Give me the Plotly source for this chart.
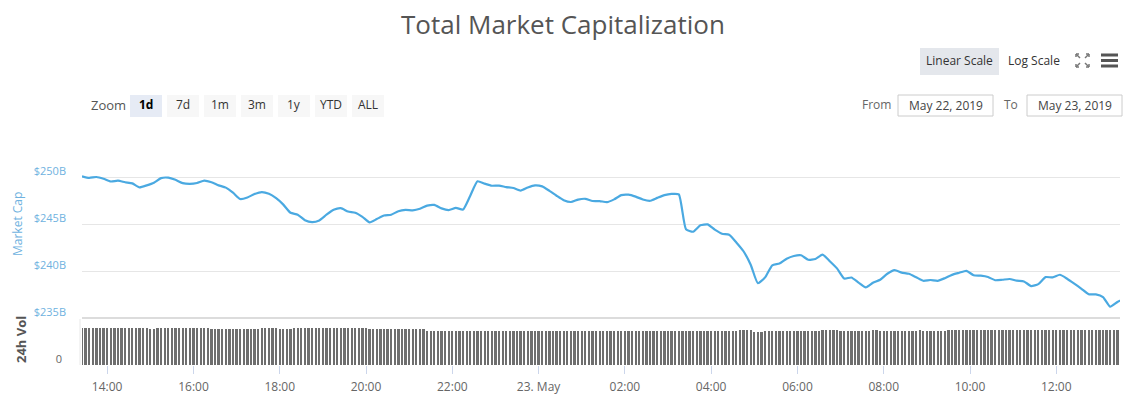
import pandas as pd
import plotly.graph_objects as go
from plotly.subplots import make_subplots

# ---------------- DATA ----------------
cap_start = "2019-05-22 13:25"          # market cap sampled every 10 minutes
market_cap_b = [
    250.08, 249.91, 250.00, 249.81, 249.52, 249.61, 249.44, 249.32, 248.90, 249.11, 249.39, 249.88,
    249.93, 249.70, 249.35, 249.27, 249.36, 249.61, 249.44, 249.11, 248.87, 248.33, 247.66, 247.82,
    248.19, 248.40, 248.22, 247.74, 247.06, 246.19, 245.99, 245.41, 245.20, 245.38, 245.99, 246.51,
    246.68, 246.33, 246.20, 245.76, 245.17, 245.53, 245.90, 245.99, 246.36, 246.50, 246.46, 246.62,
    246.95, 247.03, 246.66, 246.48, 246.71, 246.54, 248.01, 249.55, 249.29, 249.07, 249.09, 248.93,
    248.83, 248.56, 248.89, 249.11, 249.00, 248.53, 248.01, 247.53, 247.34, 247.60, 247.68, 247.45,
    247.44, 247.32, 247.62, 248.07, 248.12, 247.91, 247.61, 247.47, 247.78, 248.07, 248.20, 248.15,
    244.45, 244.18, 244.86, 244.96, 244.41, 243.97, 243.86, 243.04, 242.10, 240.67, 238.70, 239.32,
    240.61, 240.79, 241.31, 241.60, 241.67, 241.20, 241.28, 241.74, 241.04, 240.28, 239.20, 239.31,
    238.76, 238.25, 238.74, 239.07, 239.71, 240.09, 239.83, 239.70, 239.34, 238.96, 239.04, 238.95,
    239.24, 239.59, 239.81, 240.02, 239.55, 239.50, 239.36, 239.02, 239.07, 239.15, 238.97, 238.89,
    238.40, 238.60, 239.35, 239.32, 239.60, 239.18, 238.66, 238.11, 237.53, 237.51, 237.23, 236.20,
    236.70, 237.10,
]

vol_start = "2019-05-22 13:25"          # 24h volume sampled every 5 minutes
volume_b = [
    83, 83, 83, 83, 83, 83, 83, 83, 83, 83, 83, 83,
    83, 83, 83, 83, 83, 83, 83, 80, 80, 83, 83, 83,
    83, 83, 83, 83, 83, 83, 83, 83, 83, 83, 83, 83,
    80, 80, 80, 80, 80, 80, 80, 80, 80, 80, 80, 80,
    80, 80, 83, 83, 83, 83, 83, 80, 80, 80, 80, 83,
    83, 83, 83, 83, 83, 83, 83, 83, 83, 83, 83, 83,
    83, 83, 83, 83, 83, 83, 83, 83, 80, 80, 80, 80,
    80, 80, 80, 80, 80, 80, 80, 80, 80, 80, 80, 80,
    74.5, 74.5, 74.5, 74.5, 74.5, 74.5, 74.5, 74.5, 74.5, 74.5, 74.5, 74.5,
    74.5, 74.5, 74.5, 74.5, 74.5, 74.5, 74.5, 74.5, 74.5, 74.5, 74.5, 74.5,
    74.5, 74.5, 74.5, 74.5, 74.5, 74.5, 74.5, 74.5, 74.5, 74.5, 74.5, 74.5,
    74.5, 74.5, 74.5, 74.5, 74.5, 74.5, 74.5, 74.5, 74.5, 74.5, 74.5, 74.5,
    74.5, 74.5, 74.5, 74.5, 74.5, 74.5, 74.5, 74.5, 74.5, 74.5, 74.5, 74.5,
    74.5, 74.5, 74.5, 74.5, 74.5, 74.5, 74.5, 74.5, 74.5, 74.5, 74.5, 74.5,
    74.5, 74.5, 74.5, 74.5, 76, 76, 76, 76, 76, 76, 76, 76,
    76, 76, 76, 77.5, 77.5, 77.5, 77.5, 74, 74, 74, 75.5, 75.5,
    75.5, 75.5, 75.5, 75.5, 75.5, 75.5, 75.5, 75.5, 75.5, 75.5, 75.5, 75.5,
    75.5, 75.5, 77.5, 77.5, 77.5, 77.5, 77.5, 75.5, 75.5, 75.5, 75.5, 75.5,
    75.5, 75.5, 75.5, 75.5, 77.5, 77.5, 75.5, 75.5, 75.5, 75.5, 75.5, 75.5,
    75.5, 75.5, 75.5, 75.5, 75.5, 77.5, 75.5, 75.5, 75.5, 75.5, 75.5, 75.5,
    75.5, 77.5, 77.5, 77.5, 77.5, 77.5, 77.5, 77.5, 77.5, 77.5, 77.5, 77.5,
    77.5, 77.5, 77.5, 77.5, 77.5, 77.5, 77.5, 77.5, 77.5, 77.5, 77.5, 77.5,
    77.5, 77.5, 77.5, 77.5, 77.5, 77.5, 77.5, 77.5, 77.5, 77.5, 77.5, 77.5,
    77.5, 77.5, 77.5, 77.5, 77.5, 77.5, 77.5, 77.5, 77.5, 77.5, 77.5, 77.5,
    77.5,
]

x_tick_start = "2019-05-22 14:00"
x_tick_labels = ["14:00", "16:00", "18:00", "20:00", "22:00", "23. May",
                 "02:00", "04:00", "06:00", "08:00", "10:00", "12:00"]
cap_tick_values = [235, 240, 245, 250, 255]
cap_tick_labels = ["$235B", "$240B", "$245B", "$250B", ""]
vol_tick_values = [0]
vol_tick_labels = ["0"]
range_buttons = ["1d", "7d", "1m", "3m", "1y", "YTD", "ALL"]
date_from = "May 22, 2019"
date_to = "May 23, 2019"

# ---------------- FIGURE ----------------
W, H = 1131, 397
ML, MR, MT, MB = 82, 11, 130, 32
FONT = "Open Sans"
BLUE = "#4aa9e1"
LABEL_BLUE = "#6fb2e0"

def px(x):
    return (x - ML) / (W - ML - MR)

def py(y):
    return (H - MB - y) / (H - MT - MB)

cap_times = pd.date_range(cap_start, periods=len(market_cap_b), freq="10min")
vol_times = pd.date_range(vol_start, periods=len(volume_b), freq="5min")
tick_times = pd.date_range(x_tick_start, periods=len(x_tick_labels), freq="2h")

fig = make_subplots(rows=2, cols=1, shared_xaxes=True, vertical_spacing=0.0,
                    row_heights=[0.8, 0.2])

fig.add_trace(go.Scatter(x=cap_times, y=market_cap_b, mode="lines",
                         line=dict(color=BLUE, width=2.2, shape="spline", smoothing=0.5),
                         hoverinfo="skip"),
              row=1, col=1)
fig.add_trace(go.Bar(x=vol_times, y=volume_b, marker=dict(color="#6e6e6e", line=dict(width=0)),
                     width=190000, hoverinfo="skip"),
              row=2, col=1)

x_range = ["2019-05-22 13:25:00", "2019-05-23 13:28:36"]

fig.update_layout(
    width=W, height=H, autosize=False,
    margin=dict(l=ML, r=MR, t=MT, b=MB, autoexpand=False),
    paper_bgcolor="white", plot_bgcolor="white",
    showlegend=False, hovermode=False,
    font=dict(family=FONT, color="#666666", size=12),
    bargap=0,
    xaxis=dict(range=x_range, showgrid=False, showticklabels=False, ticks="",
               showline=False, zeroline=False, automargin=False),
    xaxis2=dict(range=x_range, showgrid=False, tickvals=tick_times, ticktext=x_tick_labels,
                ticks="outside", ticklen=8, tickcolor="#ccd6eb", tickwidth=1,
                ticklabelstandoff=3, automargin=False,
                tickfont=dict(family=FONT, size=12, color="#666666"),
                showline=False, zeroline=False),
    yaxis=dict(domain=[(H - MB - 318) / (H - MT - MB), 1], range=[235, 255],
               tickvals=cap_tick_values, ticktext=cap_tick_labels, automargin=False,
               showgrid=True, gridcolor="#e6e6e6", gridwidth=1, zeroline=False,
               tickfont=dict(family=FONT, size=11, color=LABEL_BLUE),
               ticklabelshift=-6, ticklabelstandoff=15, ticks=""),
    yaxis2=dict(domain=[0, (H - MB - 320) / (H - MT - MB)], range=[0, 100],
                tickvals=vol_tick_values, ticktext=vol_tick_labels, automargin=False,
                showgrid=False, zeroline=False,
                tickfont=dict(family=FONT, size=11, color="#666666"),
                ticklabelshift=-6, ticklabelstandoff=19, ticks=""),
)

shapes = []
annotations = []

# separator between panels
shapes.append(dict(type="line", xref="paper", yref="paper", x0=px(82), x1=px(1120),
                   y0=py(318), y1=py(318), line=dict(color="#dcdcdc", width=2)))
shapes.append(dict(type="line", xref="paper", yref="paper", x0=px(80), x1=px(80),
                   y0=py(319), y1=py(365), line=dict(color="#e8e8e8", width=1)))

# title
annotations.append(dict(text="Total Market Capitalization", xref="paper", yref="paper",
                        x=px(563), y=py(24), showarrow=False, xanchor="center", yanchor="middle",
                        font=dict(family=FONT, size=26, color="#555555")))

# axis titles
annotations.append(dict(text="Market Cap", xref="paper", yref="paper", x=px(17), y=py(224),
                        textangle=-90, showarrow=False, xanchor="center", yanchor="middle",
                        font=dict(family=FONT, size=12, color=LABEL_BLUE)))
annotations.append(dict(text="<b>24h Vol</b>", xref="paper", yref="paper", x=px(21), y=py(340),
                        textangle=-90, showarrow=False, xanchor="center", yanchor="middle",
                        font=dict(family=FONT, size=13, color="#555555")))

# zoom buttons
annotations.append(dict(text="Zoom", xref="paper", yref="paper", x=px(108), y=py(105),
                        showarrow=False, xanchor="center", yanchor="middle",
                        font=dict(family=FONT, size=13, color="#555555")))
for i, lab in enumerate(range_buttons):
    x0 = 130 + 37 * i
    x1 = x0 + 32
    sel = (i == 0)
    shapes.append(dict(type="rect", xref="paper", yref="paper", x0=px(x0), x1=px(x1),
                       y0=py(117), y1=py(95), line=dict(width=0),
                       fillcolor="#e6ebf5" if sel else "#f7f7f7"))
    annotations.append(dict(text=f"<b>{lab}</b>" if sel else lab, xref="paper", yref="paper",
                            x=px((x0 + x1) / 2), y=py(105), showarrow=False,
                            xanchor="center", yanchor="middle",
                            font=dict(family=FONT, size=12, color="#000000" if sel else "#333333")))

# scale buttons
shapes.append(dict(type="rect", xref="paper", yref="paper", x0=px(920), x1=px(999),
                   y0=py(75), y1=py(48), line=dict(width=0), fillcolor="#e4e7ec"))
annotations.append(dict(text="Linear Scale", xref="paper", yref="paper", x=px(959.5), y=py(60),
                        showarrow=False, xanchor="center", yanchor="middle",
                        font=dict(family=FONT, size=12, color="#333333")))
annotations.append(dict(text="Log Scale", xref="paper", yref="paper", x=px(1034), y=py(60),
                        showarrow=False, xanchor="center", yanchor="middle",
                        font=dict(family=FONT, size=12, color="#333333")))

# fullscreen icon (four outward corner arrows)
ic = "#777777"
for (cx, cy, dx, dy) in [(1076, 54, 1, 1), (1089, 54, -1, 1), (1076, 67, 1, -1), (1089, 67, -1, -1)]:
    shapes.append(dict(type="line", xref="paper", yref="paper",
                       x0=px(cx), y0=py(cy), x1=px(cx + 4 * dx), y1=py(cy + 4 * dy),
                       line=dict(color=ic, width=1.5)))
    shapes.append(dict(type="line", xref="paper", yref="paper",
                       x0=px(cx), y0=py(cy), x1=px(cx + 3 * dx), y1=py(cy),
                       line=dict(color=ic, width=1.5)))
    shapes.append(dict(type="line", xref="paper", yref="paper",
                       x0=px(cx), y0=py(cy), x1=px(cx), y1=py(cy + 3 * dy),
                       line=dict(color=ic, width=1.5)))

# hamburger menu
for yy in [55, 60.5, 66]:
    shapes.append(dict(type="line", xref="paper", yref="paper", x0=px(1101), x1=px(1118),
                       y0=py(yy), y1=py(yy), line=dict(color="#555555", width=3)))

# date range inputs
annotations.append(dict(text="From", xref="paper", yref="paper", x=px(876), y=py(105),
                        showarrow=False, xanchor="center", yanchor="middle",
                        font=dict(family=FONT, size=12, color="#666666")))
annotations.append(dict(text="To", xref="paper", yref="paper", x=px(1011), y=py(105),
                        showarrow=False, xanchor="center", yanchor="middle",
                        font=dict(family=FONT, size=12, color="#666666")))
for (x0, x1, txt) in [(898, 993, date_from), (1027, 1122, date_to)]:
    shapes.append(dict(type="rect", xref="paper", yref="paper", x0=px(x0), x1=px(x1),
                       y0=py(116), y1=py(95), line=dict(color="#cccccc", width=1),
                       fillcolor="white"))
    annotations.append(dict(text=txt, xref="paper", yref="paper", x=px((x0 + x1) / 2), y=py(105.5),
                            showarrow=False, xanchor="center", yanchor="middle",
                            font=dict(family=FONT, size=12, color="#444444")))

fig.update_layout(shapes=shapes, annotations=annotations)

fig.write_html("out.html", config={"displayModeBar": False, "responsive": False},
               post_script="document.body.style.margin='0px';")
